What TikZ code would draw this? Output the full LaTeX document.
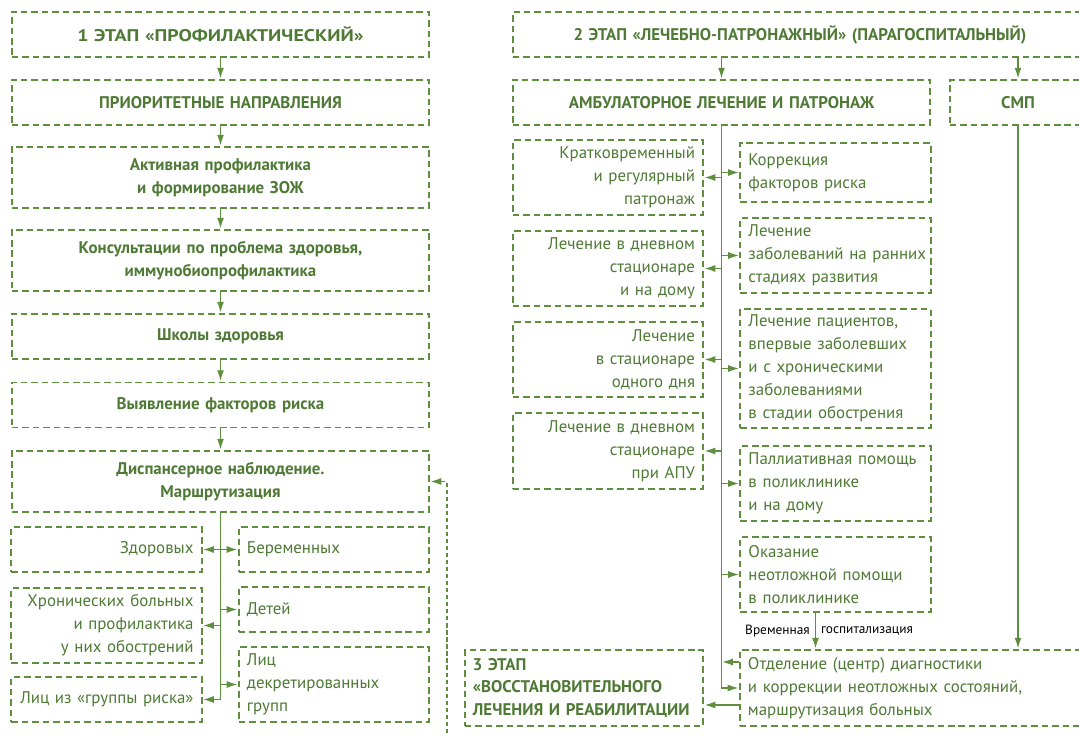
\documentclass[tikz,border=0pt]{standalone}
\usepackage{fontspec}
\setmainfont{PT Sans}
\newfontfamily\widefont[FakeStretch=1.18]{PT Sans}
\usepackage{xcolor}
\usetikzlibrary{arrows.meta}
\definecolor{lgreen}{HTML}{5E8E3E}
\definecolor{tgreen}{HTML}{4F7A35}

\begin{document}
\begin{tikzpicture}[
    x=0.025cm, y=-0.025cm,
    font=\fontsize{12}{16.3}\selectfont,
    >={Latex[length=8pt,width=5pt]},
    box/.style={draw=lgreen, line width=1.4pt, dash pattern=on 4.6pt off 2.8pt, text=tgreen, inner xsep=0.2cm, inner ysep=0pt},
    head/.style={box, font=\fontsize{12}{16.3}\selectfont\bfseries, align=center, text width=10.025cm, minimum height=#1},
    head/.default=1.125cm,
    lbox/.style={box, align=right, text width=4.35cm, minimum height=#1},
    lbox/.default=1.875cm,
    rbox/.style={box, align=left, text width=4.35cm, minimum height=#1},
    rbox/.default=1.875cm,
    arrow/.style={->, draw=lgreen, line width=1.4pt},
    back/.style={->, draw=lgreen, line width=1.2pt, dash pattern=on 3pt off 2pt}
]
\useasboundingbox (0,0) rectangle (1079,735);
\clip (0,0) rectangle (1079,735);
\fill[white] (0,0) rectangle (1079,735);

% stage 1
\node[head, font=\fontsize{12}{16.3}\widefont\bfseries] (stage1) at (220.5,34.5) {1 ЭТАП «ПРОФИЛАКТИЧЕСКИЙ»};
\node[head] (prior) at (220.5,102.5) {ПРИОРИТЕТНЫЕ НАПРАВЛЕНИЯ};
\node[head=1.525cm] (active) at (220.5,177.5) {Активная профилактика\\и формирование ЗОЖ};
\node[head=1.525cm] (consult) at (220.5,260.5) {Консультации по проблема здоровья,\\иммунобиопрофилактика};
\node[head] (school) at (220.5,336.5) {Школы здоровья};
\node[head] (factors) at (220.5,405) {Выявление факторов риска};
\node[head=1.525cm] (disp) at (220.5,481.5) {Диспансерное наблюдение.\\Маршрутизация};
\node[lbox=1.125cm] (healthy) at (106.5,549.5) {Здоровых};
\node[lbox] (chronic) at (106.5,625.5) {Хронических~больных\\и профилактика\\у них обострений};
\node[lbox=1.125cm] (riskgrp) at (106.5,699.5) {Лиц~из~«группы~риска»};
\node[rbox=1.125cm] (pregnant) at (334,549.5) {Беременных};
\node[rbox=1.125cm] (children) at (334,609.5) {Детей};
\node[rbox] (decree) at (334,684.5) {Лиц\\декретированных\\групп};

% stage 2
\node[head, text width=13.95cm] (stage2) at (800,34.5) {2 ЭТАП «ЛЕЧЕБНО-ПАТРОНАЖНЫЙ» (ПАРАГОСПИТАЛЬНЫЙ)};
\node[head] (ambul) at (721.5,102.5) {АМБУЛАТОРНОЕ ЛЕЧЕНИЕ И ПАТРОНАЖ};
\node[head, text width=3cm] (smp) at (1018,102.5) {СМП};
\node[lbox] (brief) at (608,177.5) {Кратковременный\\и регулярный\\патронаж};
\node[lbox] (dayhome) at (608,268.5) {Лечение~в~дневном\\стационаре\\и на дому};
\node[lbox] (oneday) at (608,359.5) {Лечение\\в стационаре\\одного дня};
\node[lbox=1.9cm] (apu) at (608,451) {Лечение~в~дневном\\стационаре\\при АПУ};
\node[rbox=1.475cm] (correct) at (835.5,172.5) {Коррекция\\факторов риска};
\node[rbox] (early) at (835.5,255.5) {Лечение\\заболеваний~на~ранних\\стадиях развития};
\node[rbox=2.975cm] (patients) at (835.5,368.5) {Лечение~пациентов,\\впервые~заболевших\\и с хроническими\\заболеваниями\\в~стадии~обострения};
\node[rbox] (palliat) at (835.5,483.5) {Паллиативная~помощь\\в поликлинике\\и на дому};
\node[rbox] (urgent) at (835.5,574.5) {Оказание\\неотложной~помощи\\в поликлинике};
\node[rbox=1.9cm, text width=8.25cm] (dept) at (913,688) {Отделение (центр) диагностики\\и коррекции неотложных состояний,\\маршрутизация больных};

% stage 3
\node[box, font=\fontsize{12}{16.3}\selectfont\bfseries, align=left, inner xsep=0.2cm, text width=5.55cm, minimum height=1.9cm] (stage3) at (584,688) {3 ЭТАП\\«ВОССТАНОВИТЕЛЬНОГО\\ЛЕЧЕНИЯ~И~РЕАБИЛИТАЦИИ};

% connectors, stage 1
\foreach \a/\b in {stage1/prior, prior/active, active/consult, consult/school, school/factors, factors/disp}
  \draw[arrow] (\a) -- (\b);
\draw[arrow] (disp.south) |- (riskgrp.east);
\foreach \n in {healthy, chronic}
  \draw[arrow] (disp.south |- \n.east) -- (\n.east);
\foreach \n in {pregnant, children, decree}
  \draw[arrow] (disp.south |- \n.west) -- (\n.west);
\coordinate (fbfoot) at (447,740);
\draw[back] (fbfoot) |- (disp.east);

% connectors, stage 2
\draw[arrow] (stage2.south -| ambul.north) -- (ambul.north);
\draw[arrow] (stage2.south -| smp.north) -- (smp.north);
\draw[arrow] (smp.south) -- (smp.south |- dept.north);
\draw[arrow] (ambul.south) |- (dept.west);
\foreach \n in {brief, dayhome, oneday, apu}
  \draw[arrow] (ambul.south |- \n.east) -- (\n.east);
\foreach \n in {correct, early, patients, palliat, urgent}
  \draw[arrow] (ambul.south |- \n.west) -- (\n.west);
\draw[arrow] ([xshift=-0.5cm]urgent.south) -- ([xshift=-0.5cm]urgent.south |- dept.north)
  node[midway, left, font=\fontsize{9.5}{11}\selectfont] {Временная}
  node[midway, right, font=\fontsize{9.5}{11}\selectfont] {госпитализация};
\coordinate (backin) at ([yshift=0.65cm]dept.west);
\draw[arrow] (backin) -- (ambul.south |- backin);
\coordinate (tostage3) at ([yshift=-0.425cm]dept.west);
\draw[arrow] (tostage3) -- (stage3.east |- tostage3);
\end{tikzpicture}
\end{document}
